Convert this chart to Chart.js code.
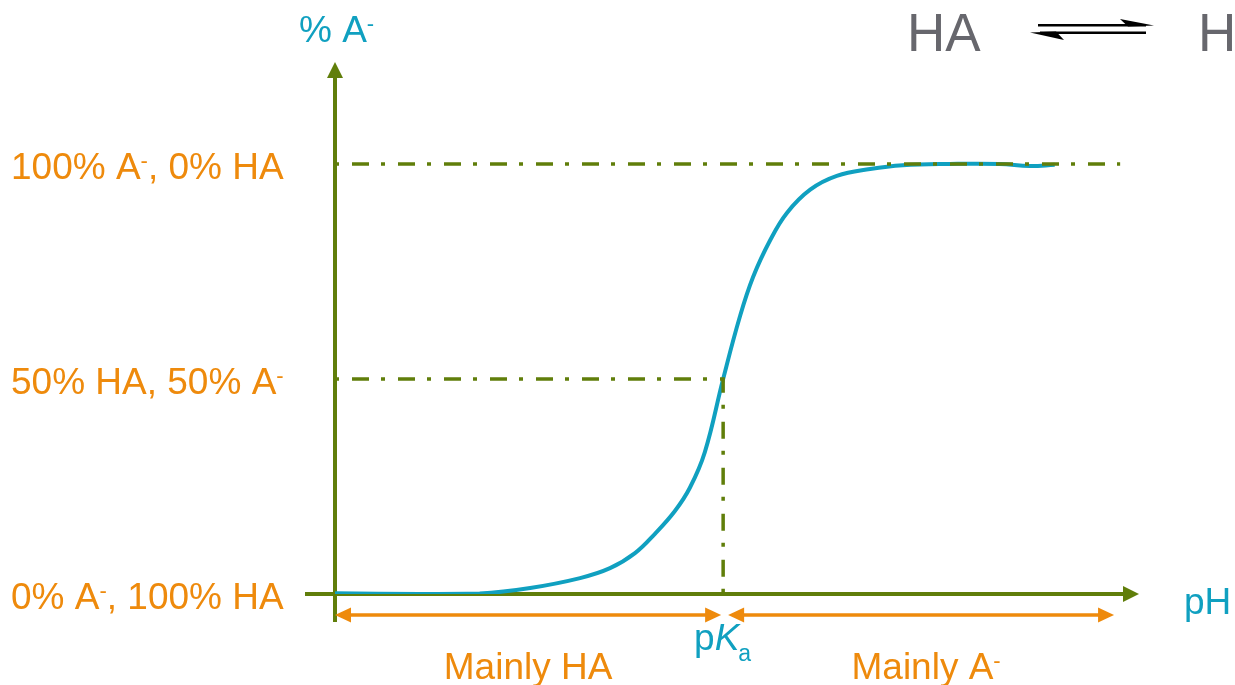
<!DOCTYPE html>
<html>
<head>
<meta charset="utf-8">
<script src="https://cdn.jsdelivr.net/npm/chart.js@4/dist/chart.umd.min.js"></script>
<style>
  html, body { margin: 0; padding: 0; background: #ffffff; }
  canvas { display: block; }
</style>
</head>
<body>
<canvas id="chart" width="1235" height="685"></canvas>
<script>
// Fraction of the base form A⁻ as a function of pH for a weak acid HA
const curvePH  = [0, 1.53, 2.61, 3.52, 4.42, 4.96, 5.41, 5.77, 6.13, 6.40, 6.67, 7.00, 7.30, 7.54, 7.85, 8.15, 8.57, 9.05, 9.65, 10.24, 11.09, 11.99, 12.53, 12.98];
const curvePct = [0.2, 0, 0.1, 1.4, 3.7, 6.0, 9.5, 14.0, 19.3, 24.7, 33.0, 50, 64.4, 73.7, 82.3, 88.6, 94.0, 97.2, 98.8, 99.7, 100, 100, 99.5, 99.8];

const pKa = 7;
const yTickValues = [0, 50, 100];
const yTickLabels = ['0% A⁻, 100% HA', '50% HA, 50% A⁻', '100% A⁻, 0% HA'];
const regionLabels = ['Mainly HA', 'Mainly A⁻'];
const regionBounds = [[0, pKa], [pKa, 14.05]];
const xAxisTitle = 'pH';
const yAxisTitle = '% A⁻';
const equationLeft = 'HA';
const equationRight = 'H';

const xMax = 14.5;
const yMax = 123.7;
const refLineEnd = 14.16;

const OLIVE = '#607e0a';
const TEAL = '#10a0c0';
const ORANGE = '#ee8a0c';
const GRAY = '#67676d';
const FONT = '"Liberation Sans", Arial, Helvetica, sans-serif';
const LABEL_SIZE = 37;

// Draws text where '⁻' is rendered as a raised small minus sign
function drawRich(ctx, text, x, y, size, color, align) {
  const runs = [];
  for (const ch of text) {
    if (ch === '⁻') runs.push({ t: '-', sup: true });
    else if (runs.length && !runs[runs.length - 1].sup) runs[runs.length - 1].t += ch;
    else runs.push({ t: ch, sup: false });
  }
  const supSize = Math.round(size * 0.6);
  let total = 0;
  runs.forEach(r => {
    ctx.font = (r.sup ? supSize : size) + 'px ' + FONT;
    r.w = ctx.measureText(r.t).width;
    total += r.w;
  });
  let cx = align === 'center' ? x - total / 2 : (align === 'right' ? x - total : x);
  ctx.fillStyle = color;
  ctx.textAlign = 'left';
  ctx.textBaseline = 'alphabetic';
  runs.forEach(r => {
    ctx.font = (r.sup ? supSize : size) + 'px ' + FONT;
    ctx.fillText(r.t, cx, r.sup ? y - size * 0.3 : y);
    cx += r.w;
  });
}

function arrowHead(ctx, tipX, tipY, dir, len, half, color) {
  ctx.fillStyle = color;
  ctx.beginPath();
  if (dir === 'up') {
    ctx.moveTo(tipX, tipY);
    ctx.lineTo(tipX - half, tipY + len);
    ctx.lineTo(tipX + half, tipY + len);
  } else {
    const s = dir === 'right' ? -1 : 1;
    ctx.moveTo(tipX, tipY);
    ctx.lineTo(tipX + s * len, tipY - half);
    ctx.lineTo(tipX + s * len, tipY + half);
  }
  ctx.closePath();
  ctx.fill();
}

const axesPlugin = {
  id: 'axesWithArrows',
  beforeDatasetsDraw(chart) {
    const { ctx, scales: { x, y } } = chart;
    const x0 = x.getPixelForValue(0), y0 = y.getPixelForValue(0);
    const xEnd = x.getPixelForValue(xMax), yEnd = y.getPixelForValue(yMax);
    ctx.save();
    ctx.strokeStyle = OLIVE;
    ctx.lineWidth = 4;
    ctx.beginPath();
    ctx.moveTo(x0, y0 + 28);
    ctx.lineTo(x0, yEnd + 14);
    ctx.moveTo(x0 - 30, y0);
    ctx.lineTo(xEnd - 14, y0);
    ctx.stroke();
    arrowHead(ctx, x0, yEnd, 'up', 16, 8, OLIVE);
    arrowHead(ctx, xEnd, y0, 'right', 16, 8, OLIVE);
    ctx.restore();
  },
  afterDraw(chart) {
    const { ctx, scales: { x, y } } = chart;
    const y0 = y.getPixelForValue(0);
    ctx.save();

    // y tick labels
    yTickValues.forEach((v, i) => {
      drawRich(ctx, yTickLabels[i], 11, y.getPixelForValue(v) + 15, LABEL_SIZE, ORANGE, 'left');
    });

    // axis titles
    drawRich(ctx, yAxisTitle, 299, 42, LABEL_SIZE, TEAL, 'left');
    drawRich(ctx, xAxisTitle, 1184, y0 + 20, LABEL_SIZE, TEAL, 'left');

    // region arrows and labels
    const ay = y0 + 21;
    regionBounds.forEach((b, i) => {
      const a = x.getPixelForValue(b[0]) + (i === 0 ? 0 : 5);
      const c = x.getPixelForValue(b[1]) - (i === 0 ? 2 : 0);
      ctx.strokeStyle = ORANGE;
      ctx.lineWidth = 3.5;
      ctx.beginPath();
      ctx.moveTo(a + 10, ay);
      ctx.lineTo(c - 10, ay);
      ctx.stroke();
      arrowHead(ctx, a, ay, 'left', 16, 7.5, ORANGE);
      arrowHead(ctx, c, ay, 'right', 16, 7.5, ORANGE);
      drawRich(ctx, regionLabels[i], (a + c) / 2 + (i === 0 ? 0 : 5), 679, LABEL_SIZE, ORANGE, 'center');
    });

    // pKa label: p, italic K, subscript a
    const px = x.getPixelForValue(pKa);
    ctx.fillStyle = TEAL;
    ctx.textBaseline = 'alphabetic';
    ctx.textAlign = 'left';
    ctx.font = LABEL_SIZE + 'px ' + FONT;
    const wp = ctx.measureText('p').width;
    ctx.font = 'italic ' + LABEL_SIZE + 'px ' + FONT;
    const wk = ctx.measureText('K').width;
    ctx.font = '23px ' + FONT;
    const wa = ctx.measureText('a').width;
    let sx = px - (wp + wk + wa) / 2;
    ctx.font = LABEL_SIZE + 'px ' + FONT;
    ctx.fillText('p', sx, 650);
    sx += wp;
    ctx.font = 'italic ' + LABEL_SIZE + 'px ' + FONT;
    ctx.fillText('K', sx, 650);
    sx += wk;
    ctx.font = '23px ' + FONT;
    ctx.fillText('a', sx - 1, 661);

    // equilibrium in the top corner
    ctx.fillStyle = GRAY;
    ctx.font = '53px ' + FONT;
    ctx.fillText(equationLeft, 907, 51);
    ctx.fillText(equationRight, 1198, 51);
    ctx.strokeStyle = '#000000';
    ctx.fillStyle = '#000000';
    ctx.lineWidth = 2.4;
    ctx.beginPath();
    ctx.moveTo(1038, 25.3);
    ctx.lineTo(1146, 25.3);
    ctx.moveTo(1040, 32.8);
    ctx.lineTo(1146, 32.8);
    ctx.stroke();
    ctx.beginPath();
    ctx.moveTo(1120, 19);
    ctx.lineTo(1154, 25.5);
    ctx.lineTo(1128, 26.4);
    ctx.closePath();
    ctx.fill();
    ctx.beginPath();
    ctx.moveTo(1064, 40);
    ctx.lineTo(1030, 32.6);
    ctx.lineTo(1056, 31.6);
    ctx.closePath();
    ctx.fill();

    ctx.restore();
  }
};

const dashDot = [4, 13, 17, 12];

new Chart(document.getElementById('chart'), {
  type: 'scatter',
  data: {
    datasets: [
      {
        label: '100% level',
        data: [{ x: 0, y: 100 }, { x: refLineEnd, y: 100 }],
        showLine: true, borderColor: OLIVE, borderWidth: 3.5, borderDash: dashDot,
        pointRadius: 0, order: 0
      },
      {
        label: 'half-dissociation',
        data: [{ x: 0, y: 50 }, { x: pKa, y: 50 }, { x: pKa, y: 0 }],
        showLine: true, borderColor: OLIVE, borderWidth: 3.5, borderDash: dashDot,
        pointRadius: 0, order: 0
      },
      {
        label: '% A⁻',
        data: curvePH.map((v, i) => ({ x: v, y: curvePct[i] })),
        showLine: true, borderColor: TEAL, borderWidth: 4,
        tension: 0.4, pointRadius: 0, order: 1
      }
    ]
  },
  options: {
    responsive: false,
    animation: false,
    events: [],
    layout: { padding: { left: 335, right: 96, top: 62, bottom: 91 } },
    scales: {
      x: { type: 'linear', min: 0, max: xMax, display: false },
      y: { type: 'linear', min: 0, max: yMax, display: false }
    },
    plugins: { legend: { display: false }, tooltip: { enabled: false } }
  },
  plugins: [axesPlugin]
});
</script>
</body>
</html>
